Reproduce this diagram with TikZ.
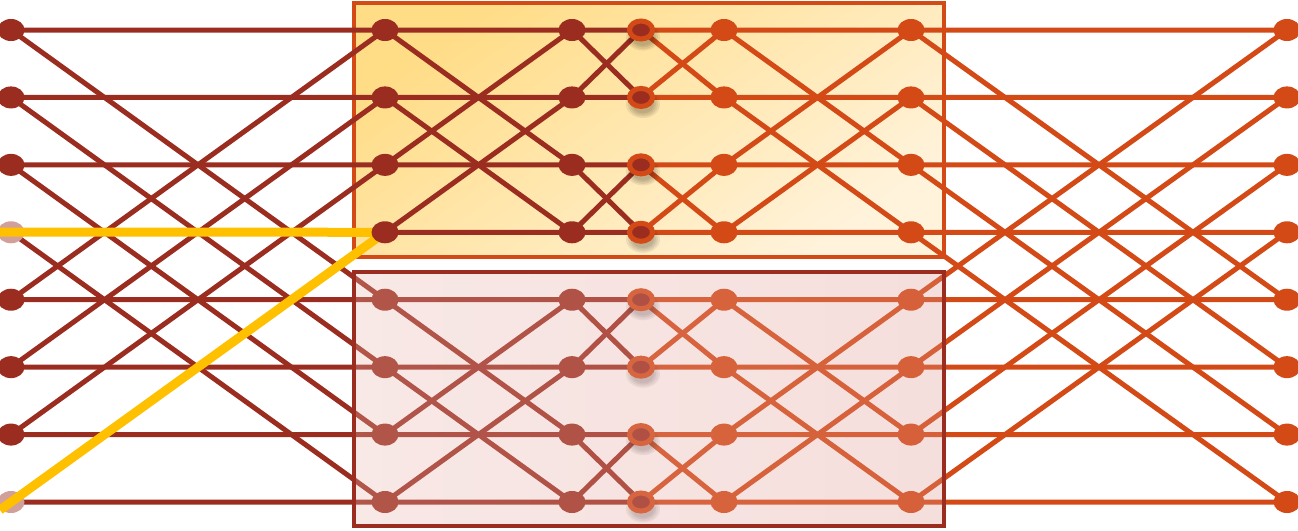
\documentclass[tikz,border=0pt]{standalone}
\usetikzlibrary{shapes.geometric}
\definecolor{dred}{HTML}{9B2D20}
\definecolor{org}{HTML}{D34A17}
\definecolor{ylw}{HTML}{FFC000}
\definecolor{yA}{HTML}{FFDC86}
\definecolor{yC}{HTML}{FFF3DC}
\definecolor{pkA}{RGB}{232,180,172}
\definecolor{pkB}{RGB}{222,148,140}
\pgfdeclarelayer{back}
\pgfdeclarelayer{edges}
\pgfdeclarelayer{anodes}
\pgfdeclarelayer{hl}
\pgfdeclarelayer{front}
\pgfsetlayers{back,edges,anodes,hl,main,front}
\begin{document}
\begin{tikzpicture}[x=1pt,y=-1pt,
  dot/.style={ellipse, minimum width=27pt, minimum height=22pt, inner sep=0pt, fill=#1},
  ring/.style={ellipse, minimum width=23pt, minimum height=18pt, inner sep=0pt,
    fill=dred, draw=org, line width=5pt},
  shad/.style={fill=black, opacity=0.07},
  wire/.style={line width=5pt, draw=#1},
  hlwire/.style={line width=9pt, draw=ylw},
  boxline/.style={line width=4.5pt, draw=#1}]
\useasboundingbox (0,0) rectangle (1298,530);
% upper box
\begin{pgfonlayer}{back}
\shade[top color=yA, bottom color=yC, shading angle=35] (354,3) rectangle (944,257);
\draw[boxline=org] (354,3) rectangle (944,257);
\end{pgfonlayer}
% nodes
\foreach \i in {0,...,7}{
  \pgfmathsetmacro\yy{30+67.43*\i}
  \begin{pgfonlayer}{anodes}
  \ifnum\i=3 \node[dot=dred!45] (a\i) at (11,\yy) {};
  \else\ifnum\i=7 \node[dot=dred!45] (a\i) at (11,\yy) {};
  \else \node[dot=dred] (a\i) at (11,\yy) {};
  \fi\fi
  \end{pgfonlayer}
  \node[dot=dred] (b\i) at (385,\yy) {};
  \node[dot=dred] (c\i) at (572,\yy) {};
  \foreach \r in {17,15,13,11}{
    \fill[shad] (643,\yy+7) ellipse [x radius=\r pt, y radius=\r pt*0.8];
  }
  \node[ring] (d\i) at (641,\yy) {};
  \node[dot=org] (e\i) at (724,\yy) {};
  \node[dot=org] (f\i) at (911,\yy) {};
  \node[dot=org] (g\i) at (1287,\yy) {};
}
% edges
\begin{pgfonlayer}{edges}
\foreach \i in {0,...,7}{
  \pgfmathtruncatemacro\jf{\i<4 ? \i+4 : \i-4}
  \pgfmathtruncatemacro\jt{mod(\i,4)<2 ? \i+2 : \i-2}
  \pgfmathtruncatemacro\jo{mod(\i,2)==0 ? \i+1 : \i-1}
  \draw[wire=dred] (a\i.center) -- (b\i.center) (a\i.center) -- (b\jf.center)
    (b\i.center) -- (c\i.center) (b\i.center) -- (c\jt.center)
    (c\i.center) -- (d\i.center) (c\i.center) -- (d\jo.center);
  \draw[wire=org] (d\i.center) -- (e\i.center) (d\i.center) -- (e\jo.center)
    (e\i.center) -- (f\i.center) (e\i.center) -- (f\jt.center)
    (f\i.center) -- (g\i.center) (f\i.center) -- (g\jf.center);
}
\end{pgfonlayer}
% highlight
\coordinate (yl1) at (0,232);
\coordinate (yl2) at (0,510);
\begin{pgfonlayer}{hl}
\draw[hlwire] (yl1) -- (b3.center);
\draw[hlwire] (yl2) -- (b3.center);
\end{pgfonlayer}
% lower box
\begin{pgfonlayer}{front}
\shade[opacity=0.3, left color=pkA, right color=pkB] (354,272) rectangle (944,526);
\draw[boxline=dred] (354,272) rectangle (944,526);
\end{pgfonlayer}
\end{tikzpicture}
\end{document}
